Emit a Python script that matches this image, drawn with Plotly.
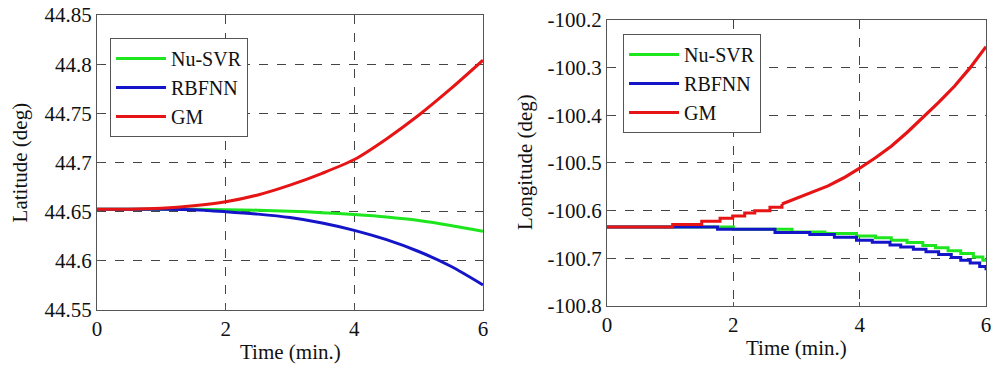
import plotly.graph_objects as go

# ---- Left panel: Latitude ----
lat_t = [0, 0.5, 1, 1.5, 2, 2.5, 3, 3.5, 4, 4.5, 5, 5.5, 6]
lat_nusvr = [44.6525, 44.6525, 44.6525, 44.6524, 44.652, 44.6515, 44.6505, 44.649, 44.647, 44.6445, 44.641, 44.636, 44.630]
lat_rbfnn = [44.6525, 44.6525, 44.6525, 44.652, 44.650, 44.6475, 44.644, 44.6385, 44.631, 44.6215, 44.6095, 44.5945, 44.5755]
lat_gm = [44.6525, 44.6525, 44.6535, 44.656, 44.660, 44.667, 44.677, 44.689, 44.703, 44.724, 44.748, 44.775, 44.804]

# ---- Right panel: Longitude (staircase) ----
lon_nusvr_t = [0, 2.0, 2.93, 3.45, 3.95, 4.25, 4.5, 4.75, 5.0, 5.2, 5.4, 5.6, 5.8, 5.95, 6.0]
lon_nusvr = [-100.634, -100.639, -100.645, -100.648, -100.653, -100.657, -100.662, -100.667,
             -100.673, -100.678, -100.684, -100.690, -100.697, -100.704, -100.706]
lon_rbfnn_t = [0, 1.75, 2.66, 3.21, 3.6, 3.95, 4.2, 4.48, 4.65, 4.85, 5.05, 5.25, 5.45, 5.6, 5.75, 5.9, 6.0]
lon_rbfnn = [-100.634, -100.639, -100.646, -100.650, -100.656, -100.662, -100.666, -100.672, -100.676,
             -100.681, -100.686, -100.692, -100.698, -100.704, -100.710, -100.717, -100.725]
# GM: coarse visible steps early on, then a fine staircase that reads as a curve
lon_gm_step_t = [0, 1.04, 1.5, 1.79, 1.99, 2.18, 2.34, 2.58, 2.77]
lon_gm_step = [-100.634, -100.629, -100.622, -100.616, -100.611, -100.605, -100.600, -100.593,
               -100.586]
lon_gm_curve_t = [2.77, 3.0, 3.25, 3.5, 3.75, 4.0, 4.25, 4.5, 4.75, 5.0, 5.25, 5.5, 5.75, 6.0]
lon_gm_curve = [-100.586, -100.574, -100.562, -100.548, -100.531, -100.511, -100.489, -100.465,
                -100.436, -100.405, -100.373, -100.339, -100.300, -100.256]

x_ticks = [0, 2, 4, 6]
lat_ticks = [44.55, 44.6, 44.65, 44.7, 44.75, 44.8, 44.85]
lat_tick_text = ["44.55", "44.6", "44.65", "44.7", "44.75", "44.8", "44.85"]
lon_ticks = [-100.8, -100.7, -100.6, -100.5, -100.4, -100.3, -100.2]
lon_tick_text = ["-100.8", "-100.7", "-100.6", "-100.5", "-100.4", "-100.3", "-100.2"]

GREEN = "#1ee61e"
BLUE = "#1414c8"
RED = "#e61414"
FONT = "Liberation Serif"
TXT = "#111111"

fig = go.Figure()
names = ["Nu-SVR", "RBFNN", "GM"]
cols = [GREEN, BLUE, RED]
for nm, col, ys in zip(names, cols, [lat_nusvr, lat_rbfnn, lat_gm]):
    fig.add_trace(go.Scatter(x=lat_t, y=ys, name=nm, mode="lines",
                             line=dict(color=col, width=3, shape="spline", smoothing=0.8),
                             xaxis="x", yaxis="y", legend="legend"))
for nm, col, xs, ys in zip(names[:2], cols[:2], [lon_nusvr_t, lon_rbfnn_t], [lon_nusvr, lon_rbfnn]):
    fig.add_trace(go.Scatter(x=xs, y=ys, name=nm, mode="lines",
                             line=dict(color=col, width=3, shape="hv"),
                             xaxis="x2", yaxis="y2", legend="legend2"))
fig.add_trace(go.Scatter(x=lon_gm_step_t, y=lon_gm_step, name="GM", mode="lines",
                         line=dict(color=RED, width=3, shape="hv"), legendgroup="gm2",
                         xaxis="x2", yaxis="y2", legend="legend2"))
fig.add_trace(go.Scatter(x=lon_gm_curve_t, y=lon_gm_curve, name="GM", mode="lines",
                         line=dict(color=RED, width=3.2, shape="linear"), legendgroup="gm2",
                         showlegend=False, xaxis="x2", yaxis="y2", legend="legend2"))

axis_common = dict(showline=True, linecolor="#555555", linewidth=1, mirror=True,
                   showgrid=True, gridcolor="#444444", griddash="dash", gridwidth=1,
                   zeroline=False, ticks="inside", ticklen=4, tickcolor="#555555",
                   automargin=False, ticklabeloverflow="allow",
                   tickfont=dict(family=FONT, size=21, color=TXT))

leg_common = dict(xanchor="left", yanchor="top", bgcolor="white", bordercolor="#555555",
                  borderwidth=1, itemwidth=50, tracegroupgap=0,
                  font=dict(family=FONT, size=20, color=TXT))

# The page body adds an 8px margin, so the figure is 992x360 to fill the 1000x368 window.
fig.update_layout(
    width=992, height=360,
    margin=dict(l=0, r=0, t=0, b=0),
    paper_bgcolor="white", plot_bgcolor="white",
    font=dict(family=FONT, size=21, color=TXT),
    xaxis=dict(domain=[0.0897, 0.4788], range=[0, 6], tickvals=x_ticks, anchor="y", **axis_common),
    yaxis=dict(domain=[0.1611, 0.9806], range=[44.55, 44.85], tickvals=lat_ticks,
               ticktext=lat_tick_text, anchor="x", **axis_common),
    xaxis2=dict(domain=[0.6038, 0.9859], range=[0, 6], tickvals=x_ticks, anchor="y2", **axis_common),
    yaxis2=dict(domain=[0.1722, 0.9667], range=[-100.8, -100.2], tickvals=lon_ticks,
                ticktext=lon_tick_text, anchor="x2", **axis_common),
    legend=dict(x=0.1028, y=0.9167, **leg_common),
    legend2=dict(x=0.620, y=0.9278, **leg_common),
    showlegend=True,
    annotations=[
        dict(text="Time (min.)", x=0.2843, y=0.0444, xref="paper", yref="paper",
             xanchor="center", yanchor="middle", showarrow=False,
             font=dict(family=FONT, size=21, color=TXT)),
        dict(text="Time (min.)", x=0.7944, y=0.0556, xref="paper", yref="paper",
             xanchor="center", yanchor="middle", showarrow=False,
             font=dict(family=FONT, size=21, color=TXT)),
        dict(text="Latitude (deg)", x=0.0125, y=0.5722, xref="paper", yref="paper",
             xanchor="center", yanchor="middle", showarrow=False, textangle=-90,
             font=dict(family=FONT, size=21, color=TXT)),
        dict(text="Longitude (deg)", x=0.5212, y=0.5722, xref="paper", yref="paper",
             xanchor="center", yanchor="middle", showarrow=False, textangle=-90,
             font=dict(family=FONT, size=21, color=TXT)),
    ],
)

fig.write_html("out.html")
